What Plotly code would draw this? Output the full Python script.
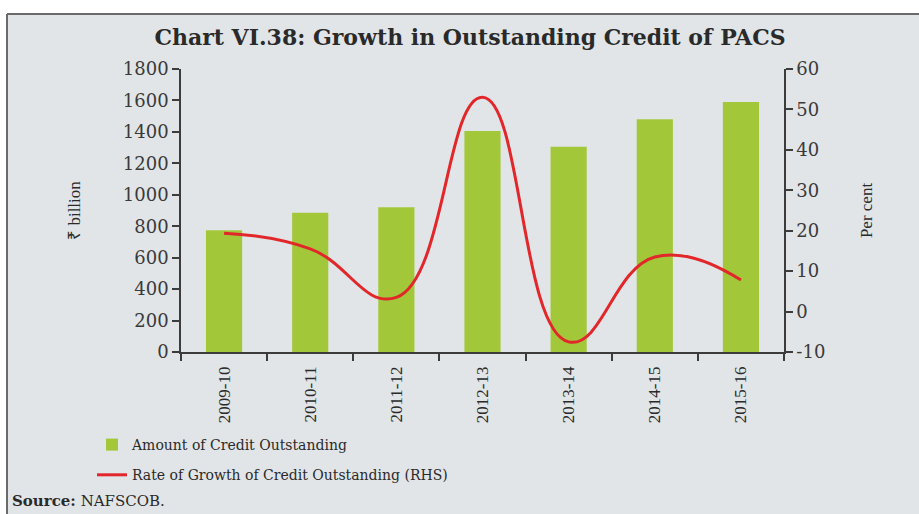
import plotly.graph_objects as go

years = ["2009-10", "2010-11", "2011-12", "2012-13", "2013-14", "2014-15", "2015-16"]
credit_outstanding = [775, 885, 920, 1405, 1305, 1480, 1590]
growth_rate = [19.4, 15.5, 3.5, 53.0, -7.5, 13.5, 7.8]
left_ticks = [0, 200, 400, 600, 800, 1000, 1200, 1400, 1600, 1800]
right_ticks = [-10, 0, 10, 20, 30, 40, 50, 60]

panel = "#e1e5e8"
axis_col = "#3c3c3c"
tick_font = dict(family="DejaVu Serif", size=18, color="#3a3a3a")

fig = go.Figure()
fig.add_trace(go.Bar(
    x=years, y=credit_outstanding, name="Amount of Credit Outstanding",
    marker=dict(color="#a2c83a", line=dict(width=0)), width=0.42,
    legendgroup="a", yaxis="y",
))
fig.add_trace(go.Scatter(
    x=years, y=growth_rate, name="Rate of Growth of Credit Outstanding (RHS)",
    mode="lines", line=dict(color="#e2272b", width=3, shape="spline", smoothing=1.3),
    legendgroup="b", yaxis="y2",
))

L, R, T, B = 181, 135, 69, 162
W, H = 919, 514
pw, ph = W - L - R, H - T - B

def px_x(p):
    return (p - L) / pw

def px_y(p):
    return (H - B - p) / ph

fig.update_layout(
    width=W, height=H,
    margin=dict(l=L, r=R, t=T, b=B, autoexpand=False),
    paper_bgcolor=panel, plot_bgcolor=panel,
    showlegend=True,
    bargap=0.58,
    title=dict(
        text="<b>Chart VI.38: Growth in Outstanding Credit of PACS</b>",
        font=dict(family="DejaVu Serif", size=22, color="#2a2a2a"),
        x=470 / W, xanchor="center", y=1 - 37 / H, yanchor="middle",
    ),
    xaxis=dict(
        type="category", range=[-0.5, 6.5], tickson="boundaries",
        showline=True, linecolor=axis_col, linewidth=1.5,
        ticks="outside", ticklen=7, tickcolor=axis_col, tickwidth=1.5,
        tickangle=-90, ticklabelstandoff=6,
        tickfont=dict(family="Liberation Serif", size=17, color="#2a2a2a"),
        showgrid=False, zeroline=False, fixedrange=True,
    ),
    yaxis=dict(
        range=[0, 1800], tickvals=left_ticks,
        showline=True, linecolor=axis_col, linewidth=1.5,
        ticks="outside", ticklen=7, tickcolor=axis_col, tickwidth=1.5,
        tickfont=tick_font, showgrid=False, zeroline=False,
        title=dict(text="₹ billion", standoff=38,
                   font=dict(family="Liberation Serif", size=17, color="#2a2a2a")),
    ),
    yaxis2=dict(
        range=[-10, 60], tickvals=right_ticks, ticktext=[str(v) for v in right_ticks],
        overlaying="y", side="right",
        showline=True, linecolor=axis_col, linewidth=1.5,
        ticks="outside", ticklen=7, tickcolor=axis_col, tickwidth=1.5,
        tickfont=tick_font, showgrid=False, zeroline=False,
        title=dict(text="Per cent", standoff=36,
                   font=dict(family="Liberation Serif", size=17, color="#2a2a2a")),
    ),
    legend=dict(
        x=px_x(92), y=px_y(429), xanchor="left", yanchor="top",
        bgcolor="rgba(0,0,0,0)", orientation="v", tracegroupgap=9,
        font=dict(family="DejaVu Serif", size=14, color="#2a2a2a"),
        itemclick=False, itemdoubleclick=False,
    ),
    annotations=[dict(
        text="<b>Source:</b> NAFSCOB.", showarrow=False,
        xref="paper", yref="paper", x=px_x(10), y=px_y(501),
        xanchor="left", yanchor="middle",
        font=dict(family="DejaVu Serif", size=15, color="#2a2a2a"),
    )],
    shapes=[
        dict(type="rect", xref="paper", yref="paper", x0=px_x(-5), x1=px_x(W + 5),
             y0=px_y(14), y1=px_y(-5), fillcolor="white", line=dict(width=0), layer="below"),
        dict(type="rect", xref="paper", yref="paper", x0=px_x(-5), x1=px_x(6),
             y0=px_y(H + 5), y1=px_y(-5), fillcolor="white", line=dict(width=0), layer="below"),
        dict(type="line", xref="paper", yref="paper", x0=px_x(7), x1=px_x(W + 5),
             y0=px_y(14), y1=px_y(14), line=dict(color="#6a6a6a", width=2)),
        dict(type="line", xref="paper", yref="paper", x0=px_x(7), x1=px_x(7),
             y0=px_y(14), y1=px_y(H + 5), line=dict(color="#6a6a6a", width=2)),
    ],
)

fig.write_html("out.html")
